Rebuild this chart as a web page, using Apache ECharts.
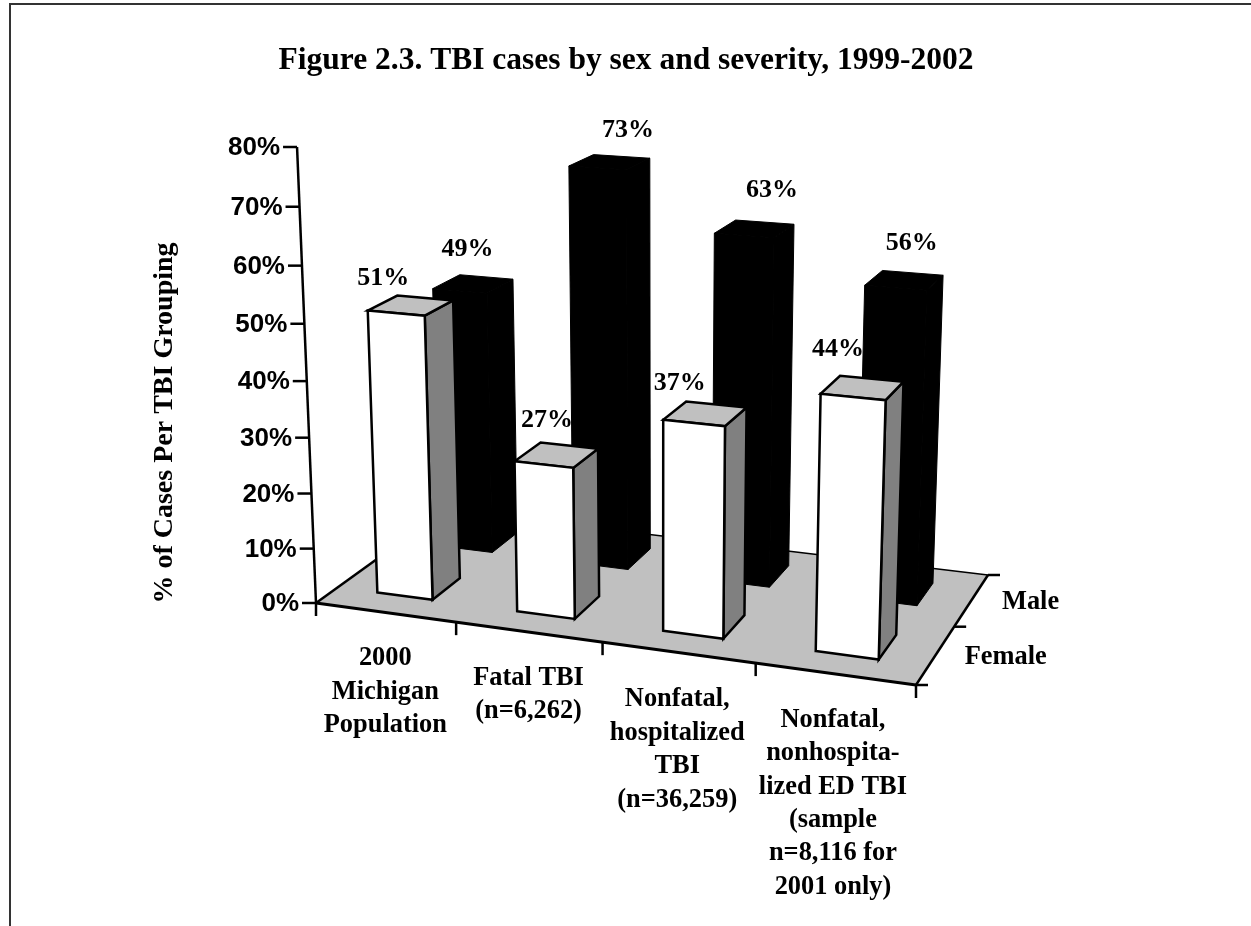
<!DOCTYPE html>
<html>
<head>
<meta charset="utf-8">
<style>html,body{margin:0;padding:0;background:#fff}#chart{width:1251px;height:926px}</style>
<script src="https://cdn.jsdelivr.net/npm/echarts@6/dist/echarts.min.js"></script>
</head>
<body>
<div id="chart"></div>
<script>
// Chart content
const titleText = 'Figure 2.3. TBI cases by sex and severity, 1999-2002';
const yAxisTitle = '% of Cases Per TBI Grouping';
const categories = [
  '2000\nMichigan\nPopulation',
  'Fatal TBI\n(n=6,262)',
  'Nonfatal,\nhospitalized\nTBI\n(n=36,259)',
  'Nonfatal,\nnonhospita-\nlized ED TBI\n(sample\nn=8,116 for\n2001 only)'
];
const femaleValues = [51, 27, 37, 44];
const maleValues = [49, 73, 63, 56];
const yTicks = [0, 10, 20, 30, 40, 50, 60, 70, 80];
const depthNames = ['Female', 'Male'];

// Scene layout: screen corners of the floor, the point where verticals meet, and the top of the value axis
const floorFL = [316, 603], floorFR = [916, 685], floorBR = [988, 575], floorBL = [445, 510];
const verticalVanish = [660, 8880];
const axisTop = [297, 147];
const barSpan = [0.29, 0.69];              // share of a category slot used by a bar
const femaleDepth = [0.155, 0.37];
const maleDepth = [0.64, 0.86];
const femaleLabelNudge = [[-29, -27], [-11, -35], [-27, -30], [-26, -39]];
const maleLabelNudge = [[-7, -35], [17, -32], [16, -39], [6, -37]];
const categoryNudge = [[0, 46], [0, 46], [-1, 47], [-2, 46]];
const depthNameNudge = [[70, 2], [59, 2]];

const SERIF = '"Liberation Serif","Times New Roman",serif';
const SANS = '"Liberation Sans",Arial,sans-serif';
const FILL_SIDE = '#808080', FILL_TOP = '#c0c0c0', FILL_FLOOR = '#c0c0c0';
const CATEGORY_LINE = 33.4;

// Perspective map from (category position, depth, value) to the screen
const H = (function () {
  const [x0, y0] = floorFL, [x1, y1] = floorFR, [x2, y2] = floorBR, [x3, y3] = floorBL;
  const dx1 = x1 - x2, dx2 = x3 - x2, sx = x0 - x1 + x2 - x3;
  const dy1 = y1 - y2, dy2 = y3 - y2, sy = y0 - y1 + y2 - y3;
  const den = dx1 * dy2 - dx2 * dy1;
  const g = (sx * dy2 - dx2 * sy) / den, h = (dx1 * sy - sx * dy1) / den;
  const lift = ((axisTop[1] - y0) / (verticalVanish[1] - axisTop[1])) / 80;
  return {
    a: x1 - x0 + g * x1, b: x3 - x0 + h * x3, c: x0,
    d: y1 - y0 + g * y1, e: y3 - y0 + h * y3, f: y0,
    g: g, h: h,
    zx: lift * verticalVanish[0], zy: lift * verticalVanish[1], zw: lift
  };
})();
function place(u, v, z) {
  const w = H.g * u + H.h * v + 1 + H.zw * z;
  return [
    (H.a * u + H.b * v + H.c + H.zx * z) / w,
    (H.d * u + H.e * v + H.f + H.zy * z) / w
  ];
}
// Reads the flat grid's scales and hands back a projector in data terms
function projector(params, api) {
  const cs = params.coordSys;
  const yMin = api.coord([0, 0])[1], yMax = api.coord([0, 80])[1];
  return function (pxX, depth, value) {
    const py = api.coord([0, value])[1];
    return place((pxX - cs.x) / cs.width, depth, 80 * (py - yMin) / (yMax - yMin));
  };
}
function poly(points, fill, stroke, width) {
  return {
    type: 'polygon', shape: { points: points },
    style: { fill: fill, stroke: stroke, lineWidth: width, lineJoin: 'miter' }, silent: true
  };
}
function seg(a, b, width) {
  return {
    type: 'line', shape: { x1: a[0], y1: a[1], x2: b[0], y2: b[1] },
    style: { stroke: '#000', lineWidth: width === undefined ? 2.5 : width, lineCap: 'butt' }, silent: true
  };
}
function label(x, y, text, font, align, lineHeight) {
  return {
    type: 'text', silent: true,
    style: { x: x, y: y, text: text, font: font, fill: '#000', textAlign: align || 'center', textVerticalAlign: 'middle', lineHeight: lineHeight || 34 }
  };
}

function renderFloor(params, api) {
  const cs = params.coordSys;
  const p = projector(params, api);
  const l = cs.x, r = cs.x + cs.width;
  const fl = p(l, 0, 0), fr = p(r, 0, 0), br = p(r, 1, 0), bl = p(l, 1, 0);
  const kids = [
    poly([fl, fr, br, bl], FILL_FLOOR, null, 0),
    seg(bl, br, 1.5), seg(fl, bl), seg(fr, br), seg(fl, fr, 3),
    seg(fl, p(l, 0, 80))
  ];
  // category ticks under the front edge
  for (let i = 0; i <= categories.length; i++) {
    const t = p(l + (r - l) * i / categories.length, 0, 0);
    kids.push(seg(t, [t[0], t[1] + 13]));
  }
  // depth ticks on the right edge
  [0, 0.5, 1].forEach(function (v) {
    const t = p(r, v, 0);
    kids.push(seg(t, [t[0] + 12, t[1]]));
  });
  depthNames.forEach(function (name, i) {
    const t = p(r, i === 0 ? 0.25 : 0.75, 0);
    kids.push(label(t[0] + depthNameNudge[i][0], t[1] + depthNameNudge[i][1], name, 'bold 26.4px ' + SERIF));
  });
  categories.forEach(function (name, i) {
    const t = p(l + (r - l) * (i + 0.5) / categories.length, 0, 0);
    const lines = name.split('\n').length;
    kids.push(label(t[0] + categoryNudge[i][0], t[1] + categoryNudge[i][1] + (lines - 1) * CATEGORY_LINE / 2, name, 'bold 26.4px ' + SERIF, 'center', CATEGORY_LINE));
  });
  return { type: 'group', children: kids };
}

function renderTick(params, api) {
  const cs = params.coordSys;
  const p = projector(params, api);
  const v = api.value(1);
  const t = p(cs.x, 0, v);
  return {
    type: 'group',
    children: [
      seg(t, [t[0] - 14, t[1]]),
      label(t[0] - 17, t[1] + 1, v + '%', 'bold 26px ' + SANS, 'right')
    ]
  };
}

function barRenderer(depth, palette, strokeWidth) {
  return function (params, api) {
    const p = projector(params, api);
    const cx = api.coord([api.value(0), 0])[0];
    const band = api.size([1, 0])[0];
    const slotLeft = cx - band / 2;
    const xa = slotLeft + band * barSpan[0], xb = slotLeft + band * barSpan[1];
    const v = api.value(1);
    const [d0, d1] = depth;
    const f0 = p(xa, d0, 0), f1 = p(xb, d0, 0), b1 = p(xb, d1, 0);
    const t0 = p(xa, d0, v), t1 = p(xb, d0, v), t2 = p(xb, d1, v), t3 = p(xa, d1, v);
    return {
      type: 'group',
      children: [
        poly([f1, b1, t2, t1], palette.side, '#000', strokeWidth),
        poly([t0, t1, t2, t3], palette.top, '#000', strokeWidth),
        poly([f0, f1, t1, t0], palette.front, '#000', strokeWidth)
      ]
    };
  };
}

function labelRenderer(depth, nudges) {
  return function (params, api) {
    const p = projector(params, api);
    const i = api.value(0), v = api.value(1);
    const cx = api.coord([i, 0])[0];
    const t = p(cx, (depth[0] + depth[1]) / 2, v);
    return label(t[0] + nudges[i][0], t[1] + nudges[i][1], v + '%', 'bold 26px ' + SERIF);
  };
}

const customBase = { type: 'custom', coordinateSystem: 'cartesian2d', clip: false, silent: true, animation: false };

const chart = echarts.init(document.getElementById('chart'), null, { renderer: 'canvas' });
chart.setOption({
  animation: false,
  backgroundColor: '#fff',
  tooltip: { show: false },
  title: {
    text: titleText, left: 621, top: 40, textAlign: 'center',
    textStyle: { fontFamily: SERIF, fontWeight: 'bold', fontSize: 31.5, color: '#000' }
  },
  grid: { left: 300, right: 300, top: 150, bottom: 300 },
  xAxis: { type: 'category', data: categories, show: false },
  yAxis: { type: 'value', min: 0, max: 80, interval: 10, show: false },
  graphic: [
    { type: 'polyline', silent: true, shape: { points: [[10, 926], [10, 4], [1251, 4]] }, style: { stroke: '#333', lineWidth: 2, fill: null } },
    { type: 'text', silent: true, x: 165, y: 423, rotation: Math.PI / 2,
      style: { text: yAxisTitle, font: 'bold 28px ' + SERIF, fill: '#000', textAlign: 'center', textVerticalAlign: 'middle' } }
  ],
  series: [
    Object.assign({}, customBase, { data: [[0, 0]], renderItem: renderFloor, z: 1 }),
    Object.assign({}, customBase, { data: yTicks.map(function (t) { return [0, t]; }), renderItem: renderTick, z: 2 }),
    Object.assign({}, customBase, {
      name: 'Male', z: 3,
      data: maleValues.map(function (v, i) { return [i, v]; }),
      renderItem: barRenderer(maleDepth, { front: '#000', side: '#000', top: '#000' }, 1)
    }),
    Object.assign({}, customBase, {
      name: 'Female', z: 4,
      data: femaleValues.map(function (v, i) { return [i, v]; }),
      renderItem: barRenderer(femaleDepth, { front: '#fff', side: FILL_SIDE, top: FILL_TOP }, 2.5)
    }),
    Object.assign({}, customBase, { z: 5, data: maleValues.map(function (v, i) { return [i, v]; }), renderItem: labelRenderer(maleDepth, maleLabelNudge) }),
    Object.assign({}, customBase, { z: 5, data: femaleValues.map(function (v, i) { return [i, v]; }), renderItem: labelRenderer(femaleDepth, femaleLabelNudge) })
  ]
});
</script>
</body>
</html>
